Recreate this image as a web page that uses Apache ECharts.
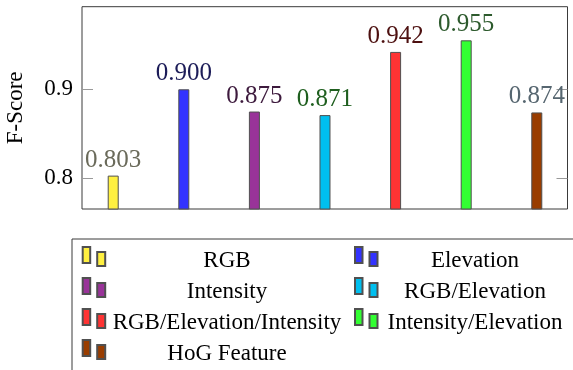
<!DOCTYPE html>
<html>
<head>
<meta charset="utf-8">
<script src="https://cdn.jsdelivr.net/npm/echarts@6/dist/echarts.min.js"></script>
<style>
html,body{margin:0;padding:0;background:#fff;}
#chart{width:573px;height:370px;}
</style>
</head>
<body>
<div id="chart"></div>
<script>
// ---- data ----
const categories = ['RGB', 'Elevation', 'Intensity', 'RGB/Elevation', 'RGB/Elevation/Intensity', 'Intensity/Elevation', 'HoG Feature'];
const fScores = [0.803, 0.900, 0.875, 0.871, 0.942, 0.955, 0.874];
const yTickValues = [0.8, 0.9];
const yAxisTitle = 'F-Score';

// ---- styles ----
const barColors = ['#fff040', '#3333ff', '#993399', '#00bfef', '#ff3333', '#33ff33', '#993d00'];
const labelColors = ['#6a6a5a', '#1c1c58', '#3d1a3d', '#1f5f1f', '#4d1010', '#2d5a2d', '#566670'];
const SERIF = '"Liberation Serif", "Times New Roman", serif';

const chart = echarts.init(document.getElementById('chart'), null, {renderer: 'canvas'});

const series = categories.map((name, i) => ({
  name: name,
  type: 'bar',
  xAxisIndex: 0,
  yAxisIndex: 0,
  barWidth: 11,
  barGap: '-100%',
  clip: true,
  itemStyle: {color: barColors[i], borderColor: '#505050', borderWidth: 1},
  label: {
    show: true,
    position: 'top',
    distance: 3,
    fontFamily: SERIF,
    fontSize: 25,
    color: labelColors[i],
    formatter: p => p.value[1].toFixed(3)
  },
  emphasis: {disabled: true},
  data: [[i + 1, fScores[i]]]
}));

const option = {
  animation: false,
  grid: {
    left: 82, right: 5.5, top: 6.7, bottom: 161,
    outerBoundsMode: 'none', containLabel: false,
    show: true, borderColor: '#3a3a3a', borderWidth: 1, backgroundColor: 'transparent'
  },
  xAxis: {
    type: 'value', min: 0.558, max: 7.435, show: false
  },
  yAxis: [{
    type: 'value', min: 0.7655, max: 0.9928, position: 'left',
    name: yAxisTitle, nameLocation: 'middle', nameGap: 55, nameRotate: 90,
    nameTextStyle: {fontFamily: SERIF, fontSize: 23, color: '#000'},
    axisLine: {show: false},
    splitLine: {show: false},
    axisTick: {show: true, inside: true, length: 11, lineStyle: {color: '#999'}, customValues: yTickValues},
    axisLabel: {show: true, customValues: yTickValues, margin: 9, fontFamily: SERIF, fontSize: 23, color: '#000',
      formatter: v => v.toFixed(1)}
  }, {
    type: 'value', min: 0.7655, max: 0.9928, position: 'right',
    axisLine: {show: false},
    splitLine: {show: false},
    axisTick: {show: true, inside: true, length: 11, lineStyle: {color: '#999'}, customValues: yTickValues},
    axisLabel: {show: false}
  }],
  legend: {
    data: categories,
    left: 72, top: 239,
    width: 490,
    orient: 'horizontal',
    padding: [7, 60, 60, 9.7],
    itemGap: 1,
    itemWidth: 22.5,
    itemHeight: 28,
    icon: 'path://M0,0h7.5v16h-7.5zM14.5,5h8v14h-8zM0,28',
    borderColor: '#3a3a3a', borderWidth: 1,
    selectedMode: false,
    textStyle: {
      fontFamily: SERIF, fontSize: 23, color: '#000',
      rich: {
        c1: {width: 233.6, align: 'center', fontFamily: SERIF, fontSize: 23, color: '#000', lineHeight: 26},
        s1: {width: 9.2, fontSize: 23, lineHeight: 26},
        c2: {width: 185, align: 'center', fontFamily: SERIF, fontSize: 23, color: '#000', lineHeight: 26}
      }
    },
    formatter: name => {
      const idx = categories.indexOf(name);
      return idx % 2 === 0 ? '{c1|' + name + '}{s1| }' : '{c2|' + name + '}';
    }
  },
  series: series
};

chart.setOption(option);
</script>
</body>
</html>
